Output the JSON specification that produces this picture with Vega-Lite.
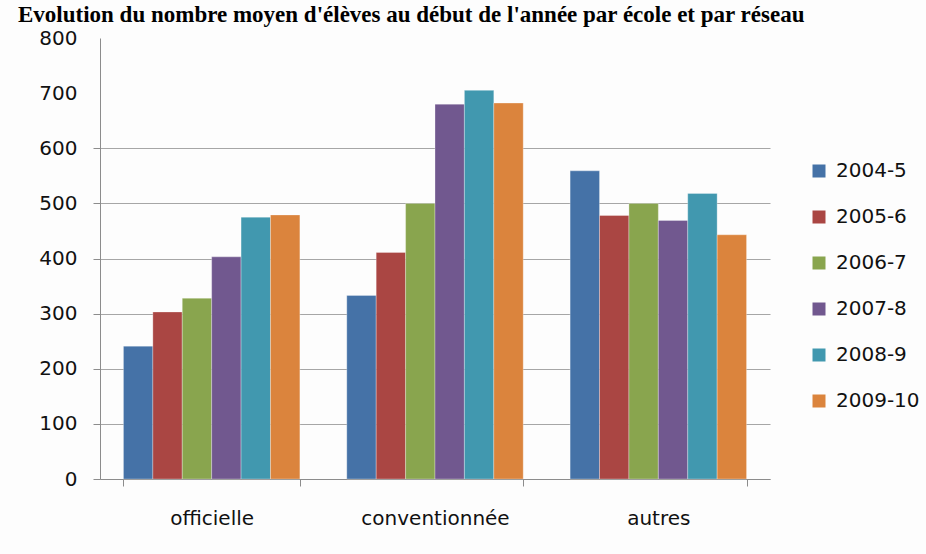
{
  "$schema": "https://vega.github.io/schema/vega-lite/v6.json",
  "autosize": {"type": "none"},
  "width": 670,
  "height": 441,
  "padding": {"left": 100, "top": 38, "right": 156, "bottom": 75},
  "background": "#fdfdfd",
  "title": {
    "text": "Evolution du nombre moyen d'élèves au début de l'année par école et par réseau",
    "anchor": "start",
    "frame": "group",
    "font": "Liberation Serif",
    "fontSize": 23,
    "fontWeight": "bold",
    "color": "#000000",
    "baseline": "bottom",
    "offset": 0,
    "dx": -82,
    "dy": 22
  },
  "data": {
    "values": [
      {"reseau": "officielle", "annee": "2004-5", "eleves": 241},
      {"reseau": "officielle", "annee": "2005-6", "eleves": 303},
      {"reseau": "officielle", "annee": "2006-7", "eleves": 328},
      {"reseau": "officielle", "annee": "2007-8", "eleves": 403},
      {"reseau": "officielle", "annee": "2008-9", "eleves": 475},
      {"reseau": "officielle", "annee": "2009-10", "eleves": 479},
      {"reseau": "conventionnée", "annee": "2004-5", "eleves": 333},
      {"reseau": "conventionnée", "annee": "2005-6", "eleves": 411},
      {"reseau": "conventionnée", "annee": "2006-7", "eleves": 500},
      {"reseau": "conventionnée", "annee": "2007-8", "eleves": 680},
      {"reseau": "conventionnée", "annee": "2008-9", "eleves": 705},
      {"reseau": "conventionnée", "annee": "2009-10", "eleves": 682},
      {"reseau": "autres", "annee": "2004-5", "eleves": 559},
      {"reseau": "autres", "annee": "2005-6", "eleves": 478},
      {"reseau": "autres", "annee": "2006-7", "eleves": 500},
      {"reseau": "autres", "annee": "2007-8", "eleves": 469},
      {"reseau": "autres", "annee": "2008-9", "eleves": 518},
      {"reseau": "autres", "annee": "2009-10", "eleves": 443}
    ]
  },
  "mark": {"type": "bar", "stroke": "#ffffff", "strokeWidth": 0.5, "strokeOpacity": 0.6},
  "encoding": {
    "x": {
      "field": "reseau",
      "type": "nominal",
      "sort": ["officielle", "conventionnée", "autres"],
      "scale": {"paddingInner": 0.21, "paddingOuter": 0.105},
      "axis": {
        "title": null,
        "labelAngle": 0,
        "labelFont": "DejaVu Sans",
        "labelFontSize": 20,
        "labelColor": "#111111",
        "labelPadding": 22,
        "labelBaseline": "top",
        "tickBand": "extent",
        "tickSize": 7,
        "tickColor": "#8c8c8c",
        "domainColor": "#8c8c8c",
        "grid": false
      }
    },
    "xOffset": {
      "field": "annee",
      "type": "nominal",
      "sort": ["2004-5", "2005-6", "2006-7", "2007-8", "2008-9", "2009-10"],
      "scale": {"paddingInner": 0, "paddingOuter": 0}
    },
    "y": {
      "field": "eleves",
      "type": "quantitative",
      "scale": {"domain": [0, 800], "nice": false},
      "axis": {
        "title": null,
        "values": [0, 100, 200, 300, 400, 500, 600, 700, 800],
        "labelFont": "DejaVu Sans",
        "labelFontSize": 20,
        "labelColor": "#111111",
        "labelPadding": 16,
        "tickSize": 7,
        "tickColor": {"condition": {"test": "datum.value <= 600", "value": "#8c8c8c"}, "value": "transparent"},
        "domainColor": "#8c8c8c",
        "grid": true,
        "gridColor": {"condition": {"test": "datum.value <= 600", "value": "#a6a6a6"}, "value": "transparent"},
        "gridWidth": 1.2
      }
    },
    "color": {
      "field": "annee",
      "type": "nominal",
      "sort": ["2004-5", "2005-6", "2006-7", "2007-8", "2008-9", "2009-10"],
      "scale": {
        "domain": ["2004-5", "2005-6", "2006-7", "2007-8", "2008-9", "2009-10"],
        "range": ["#4572A7", "#AA4643", "#89A54E", "#71588F", "#4198AF", "#DB843D"]
      },
      "legend": {
        "title": null,
        "orient": "none",
        "legendX": 709,
        "legendY": 123,
        "padding": 0,
        "symbolType": "square",
        "symbolSize": 169,
        "symbolStrokeWidth": 0,
        "labelFont": "DejaVu Sans",
        "labelFontSize": 20,
        "labelColor": "#111111",
        "labelOffset": 7,
        "rowPadding": 26
      }
    }
  },
  "config": {
    "view": {"stroke": null}
  }
}
